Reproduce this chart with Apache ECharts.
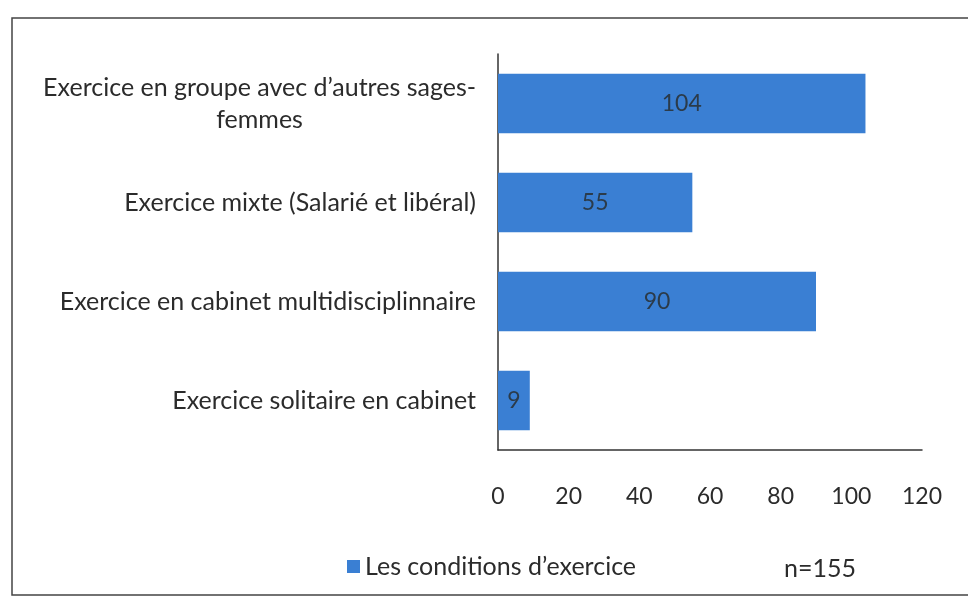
<!DOCTYPE html>
<html lang="fr" style="height: 100%">
<head>
  <meta charset="utf-8">
</head>
<body style="height: 100%; margin: 0; background: #fff">
  <div id="container" style="width: 968px; height: 601px"></div>

  <script type="text/javascript" src="https://fastly.jsdelivr.net/npm/echarts@6/dist/echarts.min.js"></script>
  <script type="text/javascript">
    // categories, top to bottom
    var categories = [
      "Exercice en groupe avec d\u2019autres sages-\nfemmes",
      "Exercice mixte (Salarié et libéral)",
      "Exercice en cabinet multidisciplinnaire",
      "Exercice solitaire en cabinet"
    ];
    var values = [104, 55, 90, 9];
    var seriesName = "Les conditions d\u2019exercice";
    var noteText = "n=155";

    var textColor = "#2b2b2b";
    var fontName = "Lato, 'Open Sans', sans-serif";

    var dom = document.getElementById('container');
    var myChart = echarts.init(dom, null, { renderer: 'canvas' });

    var option = {
      backgroundColor: '#fff',
      textStyle: { fontFamily: fontName, color: textColor },
      graphic: [
        {
          type: 'rect',
          shape: { x: 12, y: 18, width: 960, height: 577 },
          style: { fill: 'none', stroke: '#444', lineWidth: 1.5 },
          silent: true
        }
      ],
      title: {
        text: noteText,
        left: 779,
        top: 551,
        textStyle: { fontFamily: fontName, fontSize: 25, fontWeight: 'normal', color: textColor }
      },
      legend: {
        data: [seriesName],
        left: 342,
        top: 549,
        icon: 'rect',
        itemWidth: 13,
        itemHeight: 13,
        itemGap: 9,
        textStyle: { fontFamily: fontName, fontSize: 25, color: textColor }
      },
      grid: {
        left: 498,
        right: 46,
        top: 54,
        bottom: 151,
        containLabel: false
      },
      xAxis: {
        type: 'value',
        min: 0,
        max: 120,
        interval: 20,
        axisLine: { show: true, lineStyle: { color: '#333', width: 1.5 } },
        axisTick: { show: false },
        splitLine: { show: false },
        axisLabel: {
          margin: 35,
          fontSize: 23,
          color: textColor,
          fontFamily: fontName
        }
      },
      yAxis: {
        type: 'category',
        inverse: true,
        data: categories,
        axisLine: { show: true, lineStyle: { color: '#333', width: 1.5 } },
        axisTick: { show: false },
        axisLabel: {
          margin: 22,
          fontSize: 25,
          color: textColor,
          fontFamily: fontName,
          lineHeight: 32,
          formatter: function (v) {
            var parts = v.split('\n');
            if (parts.length > 1) {
              return '{a|' + parts[0] + '}\n{b|' + parts[1] + '}';
            }
            return v;
          },
          rich: {
            a: { fontSize: 25, color: textColor, fontFamily: fontName, lineHeight: 32 },
            b: { fontSize: 25, color: textColor, fontFamily: fontName, lineHeight: 32, align: 'center' }
          }
        }
      },
      series: [
        {
          name: seriesName,
          type: 'bar',
          data: values,
          barWidth: '60%',
          itemStyle: { color: '#3a7fd3' },
          label: {
            show: true,
            position: 'inside',
            fontSize: 23,
            color: '#2b3b4a',
            fontFamily: fontName
          }
        }
      ]
    };

    myChart.setOption(option);
    window.addEventListener('resize', myChart.resize);
  </script>
</body>
</html>
